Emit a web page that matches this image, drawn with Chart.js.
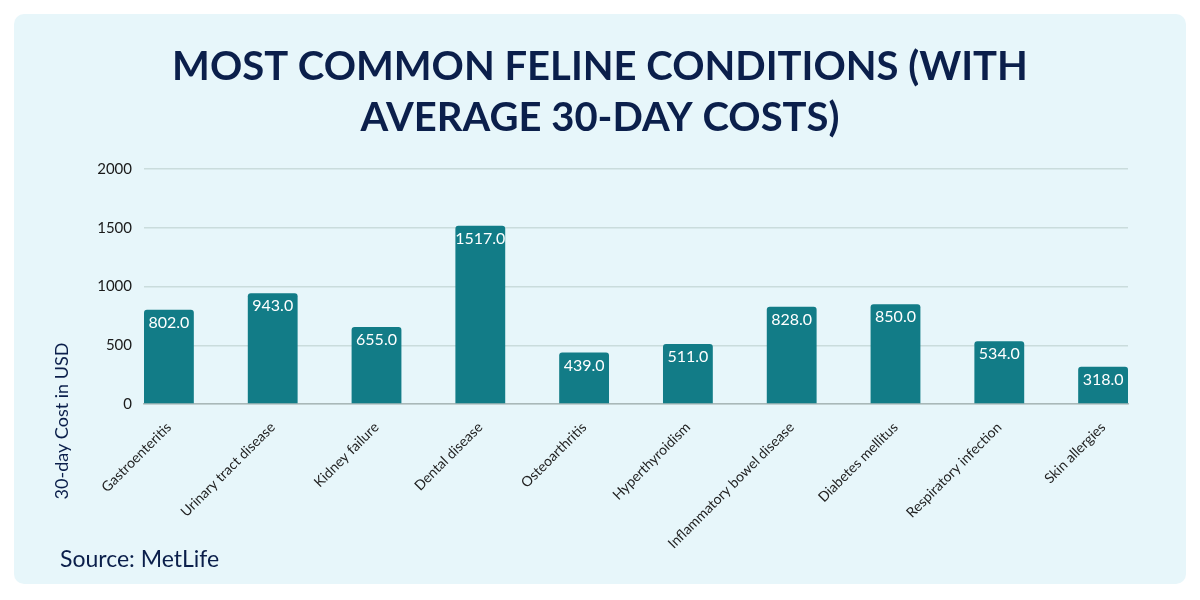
<!DOCTYPE html>
<html>
<head>
<meta charset="utf-8">
<script src="https://cdn.jsdelivr.net/npm/chart.js@4"></script>
<style>
  html, body { margin: 0; padding: 0; background: #ffffff; }
  #wrap { width: 1200px; height: 600px; }
</style>
</head>
<body>
<div id="wrap"><canvas id="costChart" width="1200" height="600"></canvas></div>
<script>
const conditions = [
  'Gastroenteritis', 'Urinary tract disease', 'Kidney failure', 'Dental disease',
  'Osteoarthritis', 'Hyperthyroidism', 'Inflammatory bowel disease',
  'Diabetes mellitus', 'Respiratory infection', 'Skin allergies'
];
const costs = [802, 943, 655, 1517, 439, 511, 828, 850, 534, 318];
const yTicks = [0, 500, 1000, 1500, 2000];

const titleLines = ['MOST COMMON FELINE CONDITIONS (WITH', 'AVERAGE 30-DAY COSTS)'];
const yTitle = '30-day Cost in USD';
const sourceText = 'Source: MetLife';

const NAVY = '#0b1f4b';
const TEAL = '#127c87';

// panel background, title, y title, source, value labels
const decorPlugin = {
  id: 'decor',
  beforeDraw(chart) {
    const ctx = chart.ctx;
    ctx.save();
    ctx.fillStyle = '#ffffff';
    ctx.fillRect(0, 0, chart.width, chart.height);
    ctx.fillStyle = '#e7f6fa';
    ctx.beginPath();
    ctx.roundRect(14, 14, 1172, 570, 10);
    ctx.fill();
    ctx.restore();
  },
  afterDraw(chart) {
    const ctx = chart.ctx;
    ctx.save();
    ctx.fillStyle = NAVY;
    ctx.textAlign = 'center';
    ctx.textBaseline = 'alphabetic';
    ctx.font = 'bold 40px Lato';
    ctx.fillText(titleLines[0], 600, 80);
    ctx.fillText(titleLines[1], 600, 131);

    ctx.font = '18px Lato';
    ctx.save();
    ctx.translate(62, 421);
    ctx.rotate(-Math.PI / 2);
    ctx.textBaseline = 'middle';
    ctx.fillText(yTitle, 0, 0);
    ctx.restore();

    ctx.textAlign = 'left';
    ctx.font = '23px Lato';
    ctx.fillText(sourceText, 60, 567);

    // value labels inside bar tops
    const meta = chart.getDatasetMeta(0);
    ctx.fillStyle = '#ffffff';
    ctx.font = '16px Lato';
    ctx.textAlign = 'center';
    ctx.textBaseline = 'top';
    meta.data.forEach((bar, i) => {
      ctx.fillText(costs[i].toFixed(1), bar.x, bar.y + 5);
    });
    ctx.restore();
  }
};

const costData = {
  datasets: [
    {
      label: '30-day Cost in USD',
      data: costs.map((v, i) => ({ x: i, y: v })),
      backgroundColor: TEAL,
      borderRadius: { topLeft: 3, topRight: 3 },
      borderSkipped: 'bottom',
      barPercentage: 0.6,
      categoryPercentage: 0.8,
    },
  ],
};

const costConfig = {
  type: 'bar',
  data: costData,
  options: {
    responsive: false,
    animation: false,
    layout: {
      padding: { top: 169, left: 14, right: 72, bottom: 0 },
    },
    scales: {
      x: {
        type: 'linear',
        offset: false,
        min: -0.24,
        max: 9.24,
        afterFit(scale) { scale.height = 196; },
        grid: { display: false },
        border: { display: true, color: '#a9b8b8', width: 1.5 },
        ticks: {
          stepSize: 1,
          includeBounds: false,
          autoSkip: false,
          maxRotation: 45,
          minRotation: 45,
          padding: 7,
          color: '#222222',
          font: { family: 'Lato', size: 14 },
          callback: (v) => conditions[v] ?? '',
        },
      },
      y: {
        min: 0,
        max: 2000,
        afterFit(scale) { scale.width = 130; },
        afterBuildTicks(scale) { scale.ticks = yTicks.map((v) => ({ value: v })); },
        border: { display: false },
        grid: { color: '#cadcdc', lineWidth: 1.5, drawTicks: false },
        ticks: {
          padding: 12,
          color: '#1a1a1a',
          font: { family: 'Lato', size: 15 },
          callback: (v) => String(v),
        },
      },
    },
    plugins: {
      legend: { display: false },
      tooltip: { enabled: false },
    },
  },
  plugins: [decorPlugin],
};

new Chart(document.getElementById('costChart').getContext('2d'), costConfig);
</script>
</body>
</html>
